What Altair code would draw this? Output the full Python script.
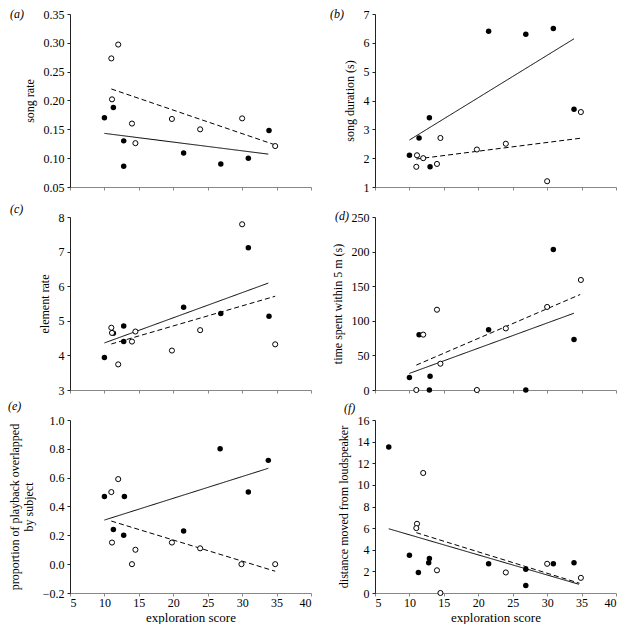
import altair as alt
import pandas as pd

FONT = "Liberation Serif, Times New Roman, serif"
X_TICKS = [5, 10, 15, 20, 25, 30, 35, 40]
X_TITLE = "exploration score"

# ---- panel (a): song rate ----
A_FX = [10.0, 11.3, 12.8, 12.8, 21.5, 26.9, 30.9, 33.9]
A_FY = [0.170, 0.188, 0.130, 0.086, 0.109, 0.090, 0.100, 0.148]
A_OX = [11.0, 12.0, 11.1, 14.0, 14.5, 19.8, 23.9, 30.0, 34.8]
A_OY = [0.273, 0.297, 0.202, 0.160, 0.126, 0.168, 0.150, 0.169, 0.121]
A_SOLID = [10.0, 33.8, 0.143, 0.107]
A_DASH = [11.0, 34.8, 0.220, 0.123]
A_YTICKS = [0.05, 0.10, 0.15, 0.20, 0.25, 0.30, 0.35]

# ---- panel (b): song duration ----
B_FX = [10.0, 11.4, 12.9, 13.0, 21.5, 26.9, 30.9, 33.9]
B_FY = [2.1, 2.7, 3.4, 1.7, 6.4, 6.3, 6.5, 3.7]
B_OX = [11.1, 11.0, 12.0, 14.5, 14.0, 19.8, 24.0, 30.0, 34.9]
B_OY = [2.1, 1.7, 2.0, 2.7, 1.8, 2.3, 2.5, 1.2, 3.6]
B_SOLID = [10.0, 33.9, 2.63, 6.14]
B_DASH = [11.0, 34.8, 1.97, 2.69]
B_YTICKS = [1, 2, 3, 4, 5, 6, 7]

# ---- panel (c): element rate ----
C_FX = [10.0, 11.3, 12.8, 12.8, 21.5, 26.9, 30.9, 33.9]
C_FY = [3.94, 4.64, 4.85, 4.40, 5.39, 5.21, 7.11, 5.13]
C_OX = [11.0, 11.1, 12.0, 14.0, 14.5, 19.8, 23.9, 30.0, 34.8]
C_OY = [4.80, 4.65, 3.74, 4.40, 4.69, 4.14, 4.73, 7.79, 4.32]
C_SOLID = [10.0, 33.8, 4.36, 6.09]
C_DASH = [11.0, 34.8, 4.33, 5.71]
C_YTICKS = [3, 4, 5, 6, 7, 8]

# ---- panel (d): time spent within 5 m ----
D_FX = [10.0, 11.4, 13.0, 12.9, 21.5, 26.9, 30.9, 33.9]
D_FY = [18, 80, 20, 0, 87, 0, 203, 73]
D_OX = [11.0, 12.0, 14.0, 14.5, 19.8, 24.0, 30.0, 34.9]
D_OY = [0, 80, 116, 38, 0, 89, 120, 159]
D_SOLID = [10.0, 33.9, 24, 111]
D_DASH = [11.0, 34.8, 36, 138]
D_YTICKS = [0, 50, 100, 150, 200, 250]

# ---- panel (e): proportion of playback overlapped ----
E_FX = [10.0, 11.3, 12.9, 12.8, 21.5, 26.8, 30.9, 33.8]
E_FY = [0.47, 0.24, 0.47, 0.20, 0.23, 0.80, 0.50, 0.72]
E_OX = [11.0, 11.1, 12.0, 14.0, 14.5, 19.8, 23.9, 29.9, 34.8]
E_OY = [0.50, 0.15, 0.59, 0.00, 0.10, 0.15, 0.11, 0.00, 0.00]
E_SOLID = [10.0, 33.8, 0.306, 0.665]
E_DASH = [11.0, 34.8, 0.299, -0.049]
E_YTICKS = [-0.2, 0.0, 0.2, 0.4, 0.6, 0.8, 1.0]

# ---- panel (f): distance moved from loudspeaker ----
F_FX = [7.0, 10.0, 11.3, 12.8, 12.9, 21.5, 26.9, 26.9, 30.9, 33.9]
F_FY = [13.5, 3.5, 1.9, 2.8, 3.2, 2.7, 2.2, 0.7, 2.7, 2.8]
F_OX = [11.1, 11.0, 12.0, 14.0, 14.5, 24.0, 30.0, 34.9]
F_OY = [6.4, 6.0, 11.1, 2.1, 0.0, 1.9, 2.7, 1.4]
F_SOLID = [7.0, 34.6, 5.94, 0.81]
F_DASH = [11.0, 34.7, 5.58, 0.90]
F_YTICKS = [0, 2, 4, 6, 8, 10, 12, 14, 16]

W = 241
H = 173


def panel(letter, ytitle, fx, fy, ox, oy, solid, dash, yticks, yfmt, bottom, letter_x, letter_y):
    pts_f = pd.DataFrame({"x": fx, "y": fy})
    pts_o = pd.DataFrame({"x": ox, "y": oy})
    lines = pd.DataFrame({
        "x": [solid[0], solid[1], dash[0], dash[1]],
        "y": [solid[2], solid[3], dash[2], dash[3]],
        "g": ["solid", "solid", "dash", "dash"],
    })
    xscale = alt.Scale(domain=[5, 40], nice=False, zero=False)
    yscale = alt.Scale(domain=[yticks[0], yticks[-1]], nice=False, zero=False)
    xaxis_kw = dict(values=X_TICKS, grid=False, tickSize=3, domainColor="#888888",
                    tickColor="#888888", labelFont=FONT, labelFontSize=12, labelColor="black",
                    titleFont=FONT, titleFontSize=13, titleFontWeight="normal", titleColor="black",
                    labelPadding=1, titlePadding=3)
    if bottom:
        xaxis_kw["title"] = X_TITLE
    else:
        xaxis_kw["labels"] = False
        xaxis_kw["title"] = None
    xaxis = alt.Axis(**xaxis_kw)
    yaxis = alt.Axis(values=yticks, format=yfmt, grid=False, tickSize=3, domainColor="#222222",
                     tickColor="#222222", labelFont=FONT, labelFontSize=12, labelColor="black",
                     title=ytitle, titleFont=FONT, titleFontSize=12, titleFontWeight="normal",
                     titleColor="black", labelPadding=3, titlePadding=7)

    base_x = alt.X("x:Q", scale=xscale, axis=xaxis)
    base_y = alt.Y("y:Q", scale=yscale, axis=yaxis)

    line_layer = alt.Chart(lines).mark_line(color="black", strokeWidth=1).encode(
        x=base_x, y=base_y, detail="g:N",
        strokeDash=alt.StrokeDash("g:N", scale=alt.Scale(domain=["solid", "dash"],
                                                          range=[[1, 0], [5, 3]]), legend=None),
    )
    filled = alt.Chart(pts_f).mark_circle(color="black", size=30, opacity=1).encode(
        x=base_x, y=base_y)
    opened = alt.Chart(pts_o).mark_point(shape="circle", filled=False, stroke="black",
                                         fill="white", fillOpacity=1, strokeWidth=1,
                                         size=26, opacity=1).encode(x=base_x, y=base_y)
    lab = alt.Chart(pd.DataFrame({"t": [f"({letter})"]})).mark_text(
        align="left", baseline="middle", font=FONT, fontSize=12, fontStyle="italic",
        color="black").encode(x=alt.value(letter_x), y=alt.value(letter_y), text="t:N")
    return alt.layer(line_layer, filled, opened, lab).properties(width=W, height=H)


pa = panel("a", "song rate", A_FX, A_FY, A_OX, A_OY, A_SOLID, A_DASH, A_YTICKS, ".2f", False, -60, 0)
pb = panel("b", "song duration (s)", B_FX, B_FY, B_OX, B_OY, B_SOLID, B_DASH, B_YTICKS, "d", False, -45, 0)
pc = panel("c", "element rate", C_FX, C_FY, C_OX, C_OY, C_SOLID, C_DASH, C_YTICKS, "d", False, -60, -8)
pd_ = panel("d", "time spent within 5 m (s)", D_FX, D_FY, D_OX, D_OY, D_SOLID, D_DASH, D_YTICKS, "d", False, -40, -1)
pe = panel("e", ["proportion of playback overlapped", "by subject"], E_FX, E_FY, E_OX, E_OY,
           E_SOLID, E_DASH, E_YTICKS, ".1f", True, -62, -14)
pf = panel("f", "distance moved from loudspeaker", F_FX, F_FY, F_OX, F_OY, F_SOLID, F_DASH,
           F_YTICKS, "d", True, -31, -12)

chart = alt.concat(pa, pb, pc, pd_, pe, pf, columns=2, spacing={"row": 30, "column": 64},
                   bounds="flush").properties(
    padding=0
).configure_view(stroke=None).configure_text(font=FONT)

chart.save("out.html", embed_options={"renderer": "svg", "actions": False})
